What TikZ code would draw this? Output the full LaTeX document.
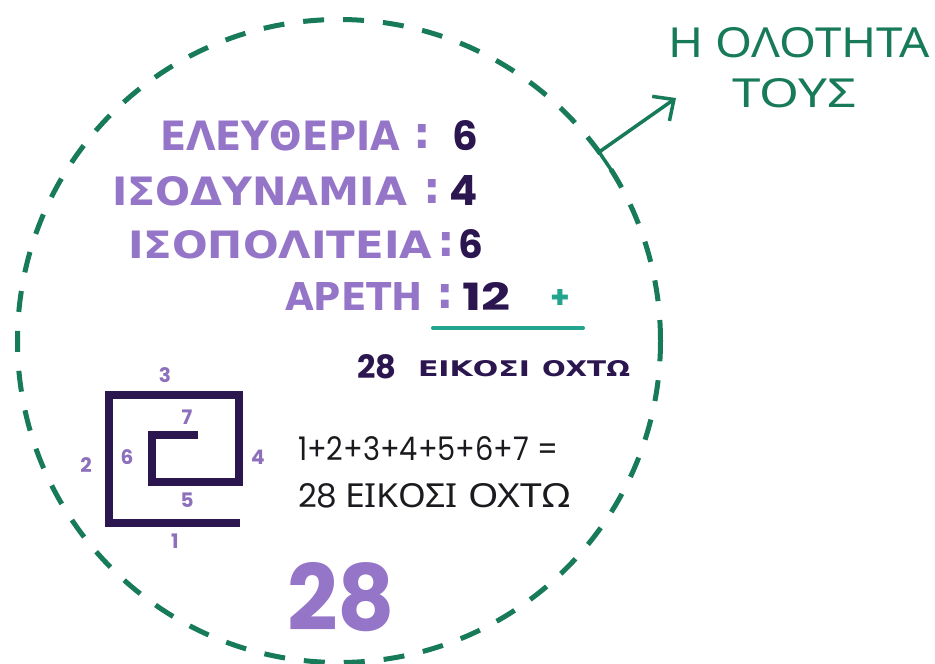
\documentclass[tikz,border=0pt]{standalone}
\usepackage{fontspec}
\usepackage{graphicx}
\usetikzlibrary{arrows.meta}
\newfontfamily\grk{Noto Sans}
\newfontfamily\grkb{DejaVu Sans}
\newfontfamily\pop{Poppins}
\definecolor{grn}{HTML}{177A58}
\definecolor{teal}{HTML}{22A48E}
\definecolor{lpurp}{HTML}{9575C8}
\definecolor{dpurp}{HTML}{2B1650}
\definecolor{lbl}{HTML}{8D70BB}
\definecolor{ink}{HTML}{1C1A1E}
\newcommand\fitwh[3]{\resizebox{#1pt}{#2pt}{#3}}
\newcommand\fith[2]{\resizebox{!}{#1pt}{#2}}
\begin{document}
\begin{tikzpicture}[x=1pt,y=-1pt,
  txt/.style={inner sep=0pt,outer sep=0pt,anchor=base west},
  ctxt/.style={inner sep=0pt,outer sep=0pt,anchor=base},
  word/.style={txt,text=lpurp},
  val/.style={txt,text=dpurp},
  colon/.style={ctxt,text=lpurp},
  lab/.style={inner sep=0pt,outer sep=0pt,anchor=center,text=lbl,font=\pop\bfseries\fontsize{20}{20}\selectfont},
  arr/.style={draw=grn,line width=3.5pt,line join=miter,-{Straight Barb[length=16pt,width=30pt]}},
  meander/.style={draw=dpurp,line width=8pt,line join=miter,line cap=butt}]
\fill[white] (0,0) rectangle (935,664);
\useasboundingbox (0,0) rectangle (935,664);

% dashed ring
\node[draw=grn,line width=5pt,dash pattern=on 21pt off 19pt,circle,minimum size=643pt,inner sep=0pt,outer sep=0pt] (ring) at (339,341) {};

% title and arrow
\node[txt,text=grn] (title1) at (668,57) {\fitwh{262}{30}{\grk Η ΟΛΟΤΗΤΑ}};
\node[txt,text=grn] (title2) at (732,107) {\fitwh{125}{29}{\grk ΤΟΥΣ}};
\coordinate (tipc) at (676,98);
\draw[arr] (ring.32) -- (ring.36) -- (tipc);

% rows
\node[word] (w1) at (160,150) {\fitwh{240}{30}{\grkb\bfseries ΕΛΕΥΘΕΡΙΑ}};
\node[colon] (c1) at (422,148) {\fith{24}{\grkb\bfseries :}};
\node[val] (v1) at (452,150) {\fith{30}{\pop\bfseries 6}};

\node[word] (w2) at (112,205) {\fitwh{295}{29}{\grkb\bfseries ΙΣΟΔΥΝΑΜΙΑ}};
\node[colon] (c2) at (432,203) {\fith{24}{\grkb\bfseries :}};
\node[val] (v2) at (449,205) {\fith{30}{\pop\bfseries 4}};

\node[word] (w3) at (128,258) {\fitwh{304}{28}{\grkb\bfseries ΙΣΟΠΟΛΙΤΕΙΑ}};
\node[colon] (c3) at (446,256) {\fith{24}{\grkb\bfseries :}};
\node[val] (v3) at (458,258) {\fith{29}{\pop\bfseries 6}};

\node[word] (w4) at (285,310) {\fitwh{138}{28}{\grkb\bfseries ΑΡΕΤΗ}};
\node[colon] (c4) at (445,308) {\fith{24}{\grkb\bfseries :}};
\node[val] (v4) at (462,310) {\fitwh{48}{28}{\pop\bfseries 12}};
\node[inner sep=0pt,text=teal] (plus) at (560,299) {\fith{19}{\pop\bfseries +}};
\coordinate (ulA) at (433,328);
\coordinate (ulB) at (583,328);
\draw[teal,line width=4pt,line cap=round] (ulA) -- (ulB);

% result
\node[val] (r28) at (357,378) {\fith{24}{\pop\bfseries 28}};
\node[val] (r1) at (418,376) {\fitwh{112}{16}{\grkb\bfseries ΕΙΚΟΣΙ}};
\node[val] (r2) at (542,376) {\fitwh{88}{16}{\grkb\bfseries ΟΧΤΩ}};

% meander
\draw[meander] (240,523) -- (109,523) -- (109,395) -- (239,395) -- (239,482) -- (152,482) -- (152,435) -- (198,435);
\node[lab] (l1) at (175,541) {1};
\node[lab] (l2) at (86,465) {2};
\node[lab] (l3) at (165,375) {3};
\node[lab] (l4) at (258,457) {4};
\node[lab] (l5) at (187,500) {5};
\node[lab] (l6) at (127,457) {6};
\node[lab] (l7) at (187,417) {7};

% equation
\node[txt,text=ink] (eq1) at (298,460) {\fitwh{260}{24}{\pop 1+2+3+4+5+6+7 =}};
\node[txt,text=ink] (eq2a) at (298,507) {\fith{24}{\pop 28}};
\node[txt,text=ink] (eq2b) at (345,507) {\fitwh{113}{24}{\grk ΕΙΚΟΣΙ}};
\node[txt,text=ink] (eq2c) at (468,507) {\fitwh{102}{24}{\grk ΟΧΤΩ}};

% big number
\node[txt,text=lpurp] (big) at (287,630) {\fitwh{108}{68}{\pop\bfseries 28}};
\end{tikzpicture}
\end{document}
